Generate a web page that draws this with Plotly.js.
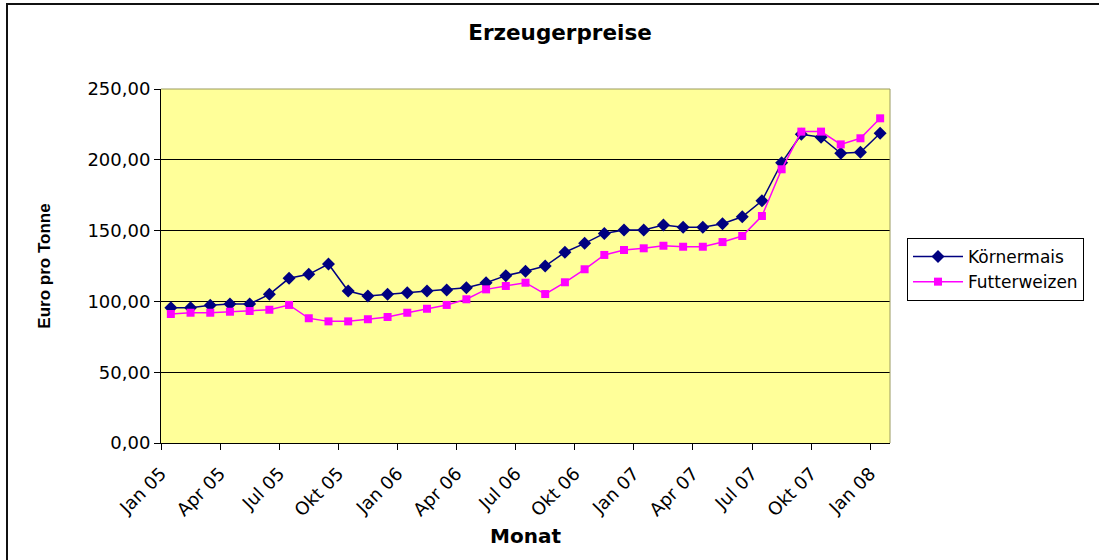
<!DOCTYPE html>
<html><head><meta charset="utf-8">
<script src="https://cdn.plot.ly/plotly-3.0.1.min.js"></script>
<style>
html,body{margin:0;padding:0;background:#fff;}
#wrap{position:relative;width:1099px;height:560px;overflow:hidden;}
#chart{position:absolute;left:0;top:0;width:1099px;height:560px;}
#frame{position:absolute;left:6px;top:3px;width:1200px;height:700px;border-left:2px solid #111;border-top:2px solid #111;pointer-events:none;}
</style></head><body>
<div id="wrap"><div id="chart"></div><div id="frame"></div></div>
<script>
const months = ["Jan 05","Feb 05","Mrz 05","Apr 05","Mai 05","Jun 05","Jul 05","Aug 05","Sep 05","Okt 05","Nov 05","Dez 05",
  "Jan 06","Feb 06","Mrz 06","Apr 06","Mai 06","Jun 06","Jul 06","Aug 06","Sep 06","Okt 06","Nov 06","Dez 06",
  "Jan 07","Feb 07","Mrz 07","Apr 07","Mai 07","Jun 07","Jul 07","Aug 07","Sep 07","Okt 07","Nov 07","Dez 07",
  "Jan 08"];
const koernermais = [95.6, 95.6, 97.2, 98.2, 98.2, 105.0, 116.3, 119.1, 126.4, 107.3, 103.8, 105.0,
  106.1, 107.3, 108.1, 109.7, 113.2, 118.2, 121.3, 125.0, 134.7, 141.0, 148.0, 150.5,
  150.4, 154.0, 152.3, 152.3, 154.9, 159.8, 171.1, 197.9, 218.0, 215.9, 204.6, 205.3,
  218.7];
const futterweizen = [91.1, 92.0, 92.0, 92.7, 93.2, 94.1, 97.5, 88.1, 85.9, 85.9, 87.4, 89.0,
  92.0, 94.8, 97.5, 101.5, 108.5, 110.9, 113.2, 105.2, 113.5, 122.7, 132.8, 136.3,
  137.5, 139.3, 138.6, 138.6, 141.9, 146.2, 160.3, 193.3, 219.9, 219.9, 210.9, 215.2,
  229.3];
const tickMonths = ["Jan 05","Apr 05","Jul 05","Okt 05","Jan 06","Apr 06","Jul 06","Okt 06","Jan 07","Apr 07","Jul 07","Okt 07","Jan 08"];
const yTicks = [0, 50, 100, 150, 200, 250];
const seriesNames = ["Körnermais", "Futterweizen"];

const xIdx = months.map((m, i) => i);
const tickvals = tickMonths.map(m => months.indexOf(m) - 0.5);

const traces = [
  {x: xIdx, y: koernermais, name: seriesNames[0], type: 'scatter', mode: 'lines+markers',
   line: {color: '#000080', width: 1.5}, marker: {symbol: 'diamond', size: 10, color: '#000080'}},
  {x: xIdx, y: futterweizen, name: seriesNames[1], type: 'scatter', mode: 'lines+markers',
   line: {color: '#FF00FF', width: 1.5}, marker: {symbol: 'square', size: 8, color: '#FF00FF'}}
];

const tickFont = {family: 'DejaVu Sans', size: 18, color: '#000'};
const layout = {
  width: 1099, height: 560,
  margin: {l: 161, r: 209, t: 89, b: 117, pad: 0},
  paper_bgcolor: '#fff', plot_bgcolor: '#FFFF99',
  separators: ',.',
  showlegend: true,
  title: {text: 'Erzeugerpreise', x: 560/1099, xanchor: 'center', y: 1 - 32/560, yanchor: 'middle',
          font: {family: 'DejaVu Sans', size: 21.5, weight: 'bold', color: '#000'}},
  xaxis: {type: 'linear', range: [-0.5, months.length - 0.5], tickmode: 'array', tickvals: tickvals, ticktext: tickMonths,
          tickangle: -45, tickfont: tickFont, ticks: 'outside', ticklen: 6, tickcolor: '#000', tickwidth: 1,
          ticklabelstandoff: 6,
          showline: true, linecolor: '#000', linewidth: 1, showgrid: false, zeroline: false,
          title: {text: 'Monat', standoff: 9, font: {family: 'DejaVu Sans', size: 20, weight: 'bold', color: '#000'}}},
  yaxis: {range: [0, 250], tickmode: 'array', tickvals: yTicks, tickformat: '.2f', tickfont: tickFont,
          ticks: 'outside', ticklen: 6, tickcolor: '#000', tickwidth: 1,
          showline: true, linecolor: '#000', linewidth: 1, showgrid: true, gridcolor: '#000', gridwidth: 1, zeroline: false,
          title: {text: 'Euro pro Tonne', standoff: 32, font: {family: 'Liberation Sans', size: 17, weight: 'bold', color: '#000'}}},
  legend: {x: (907-161)/729, xanchor: 'left', y: (443-238)/354, yanchor: 'top', bgcolor: '#fff', itemwidth: 50,
           bordercolor: '#000', borderwidth: 1, font: {family: 'DejaVu Sans', size: 17, color: '#000'}},
  shapes: [
    {type: 'line', xref: 'paper', yref: 'paper', x0: 0, x1: 1, y0: 1, y1: 1, line: {color: '#9a9a60', width: 1}, layer: 'above'},
    {type: 'line', xref: 'paper', yref: 'paper', x0: 1, x1: 1, y0: 0, y1: 1, line: {color: '#9a9a60', width: 1}, layer: 'above'}
  ]
};
Plotly.newPlot('chart', traces, layout, {displayModeBar: false, staticPlot: true});
</script>
</body></html>
